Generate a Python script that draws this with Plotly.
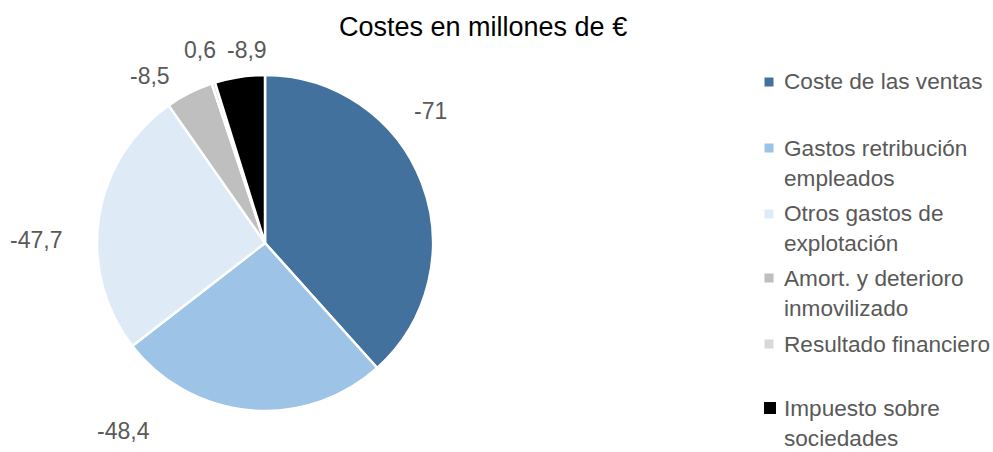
import textwrap
import plotly.graph_objects as go

# ---- data ----
categories = [
    "Coste de las ventas",
    "Gastos retribución empleados",
    "Otros gastos de explotación",
    "Amort. y deterioro inmovilizado",
    "Resultado financiero",
    "Impuesto sobre sociedades",
]
values = [-71, -48.4, -47.7, -8.5, 0.6, -8.9]
title_text = "Costes en millones de €"

# ---- style ----
colors = ["#41719C", "#9DC3E6", "#DEEBF7", "#BFBFBF", "#D9D9D9", "#000000"]
W, H = 993, 452
FONT = "Liberation Sans, Arial, sans-serif"
TXT = "#595959"
# label anchor positions (px) for the data labels, Excel-style placement
label_pos = [(430, 111), (123, 431), (36, 240), (150, 76), (200, 50), (247, 50)]
# legend first-line y (px), line height, square sizes
legend_y = [82, 148, 214, 278, 344, 408]
legend_line_h = 30
legend_sq = [9, 9, 9, 9, 9, 12]
legend_sq_x = 769
legend_txt_x = 782


def fmt(v):
    s = f"{v:g}"
    return s.replace(".", ",")


def px_x(x):
    return x / W


def px_y(y):
    return 1 - y / H


fig = go.Figure()
fig.add_trace(go.Pie(
    labels=categories,
    values=[abs(v) for v in values],
    sort=False,
    direction="clockwise",
    rotation=0,
    marker=dict(colors=colors, line=dict(color="white", width=2.5)),
    textinfo="none",
    hoverinfo="label+value",
    showlegend=False,
    domain=dict(x=[px_x(97), px_x(433)], y=[px_y(412), px_y(74)]),
))

annotations = []
# title
annotations.append(dict(
    text=title_text, x=px_x(483), y=px_y(27), xref="paper", yref="paper",
    showarrow=False, xanchor="center", yanchor="middle",
    font=dict(family=FONT, size=27, color="#000000"),
))
# data labels
for v, (lx, ly) in zip(values, label_pos):
    annotations.append(dict(
        text=fmt(v), x=px_x(lx), y=px_y(ly), xref="paper", yref="paper",
        showarrow=False, xanchor="center", yanchor="middle",
        font=dict(family=FONT, size=23, color=TXT),
    ))

shapes = []
for name, col, y0, sq in zip(categories, colors, legend_y, legend_sq):
    lines = textwrap.wrap(name, width=20)
    for i, line in enumerate(lines):
        annotations.append(dict(
            text=line, x=px_x(legend_txt_x), y=px_y(y0 + i * legend_line_h),
            xref="paper", yref="paper", showarrow=False,
            xanchor="left", yanchor="middle",
            font=dict(family=FONT, size=22.6, color=TXT),
        ))
    cx = legend_sq_x if sq < 10 else legend_sq_x + 1
    shapes.append(dict(
        type="rect", xref="paper", yref="paper",
        x0=px_x(cx - sq / 2), x1=px_x(cx + sq / 2),
        y0=px_y(y0 + sq / 2), y1=px_y(y0 - sq / 2),
        fillcolor=col, line=dict(width=0),
    ))

fig.update_layout(
    width=W, height=H,
    margin=dict(l=0, r=0, t=0, b=0),
    paper_bgcolor="white", plot_bgcolor="white",
    annotations=annotations, shapes=shapes,
    showlegend=False,
)

fig.write_html("out.html", config={"displayModeBar": False},
               post_script="document.body.style.margin='0';")
